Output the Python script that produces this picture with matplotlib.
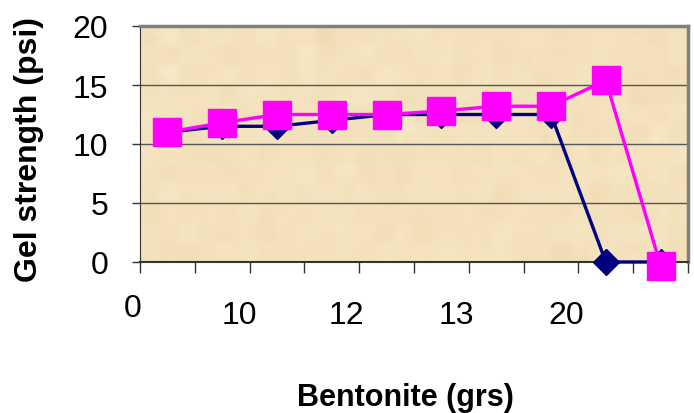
import matplotlib.pyplot as plt
import numpy as np

plt.rcParams['font.family'] = ['Liberation Sans', 'DejaVu Sans']

# gel strength readings per sample (psi)
gel_10s = [11, 11.5, 11.5, 12, 12.5, 12.5, 12.5, 12.5, 0, 0]
gel_10min = [11, 11.8, 12.5, 12.5, 12.5, 12.8, 13.2, 13.2, 15.4, -0.3]

# bentonite amounts shown under the axis and where they sit (category units)
x_labels = ['0', '10', '12', '13', '20']
x_label_pos = [-0.64, 1.31, 3.27, 5.27, 7.27]

x = np.arange(len(gel_10s))

fig = plt.figure(figsize=(6.94, 4.14), dpi=100)
ax = fig.add_axes([140 / 694, 1 - 263 / 414, 548 / 694, 236 / 414])

# parchment-like fill of the plot area
rng = np.random.default_rng(3)
tex = rng.normal(0, 1, (12, 28))
tex = np.kron(tex, np.ones((4, 4)))
tex += 0.6 * np.kron(rng.normal(0, 1, (24, 56)), np.ones((2, 2)))
base = np.array([0.975, 0.915, 0.785])
dark = np.array([0.91, 0.82, 0.64])
t = (tex - tex.min()) / (tex.max() - tex.min())
img = base[None, None, :] * (1 - 0.6 * t[..., None]) + dark[None, None, :] * 0.6 * t[..., None]
ax.imshow(img, extent=[-0.5, 9.5, 0, 20], aspect='auto', zorder=0, interpolation='bicubic')

for yv in [5, 10, 15]:
    ax.axhline(yv, color='#555555', lw=1.0, zorder=1)

ax.plot(x, gel_10s, color='#000080', lw=2.4, marker='D', ms=13,
        zorder=3, clip_on=False)
ax.plot(x, gel_10min, color='#FF00FF', lw=2.4, marker='s', ms=20,
        zorder=4, clip_on=False)

ax.set_xlim(-0.5, 9.5)
ax.set_ylim(0, 20)
ax.set_yticks([0, 5, 10, 15, 20])
ax.tick_params(axis='y', labelsize=23, length=6, width=1, color='#333333', pad=17)
ax.set_xticks(np.arange(-0.5, 10, 1))
ax.set_xticklabels([])
ax.tick_params(axis='x', length=8, width=1, color='#333333')

for s in ['top', 'right']:
    ax.spines[s].set_color('#808080')
    ax.spines[s].set_linewidth(2.5)
ax.spines['left'].set_color('#333333')
ax.spines['bottom'].set_color('#333333')
ax.spines['bottom'].set_linewidth(1.5)

for i, (lab, pos) in enumerate(zip(x_labels, x_label_pos)):
    yy = -0.195 if i == 0 else -0.225
    ax.text(pos, yy, lab, transform=ax.get_xaxis_transform(),
            ha='center', va='center', fontsize=23)

fig.text(405 / 694, 1 - 398 / 414, 'Bentonite (grs)', ha='center', va='center',
         fontsize=22, fontweight='bold')
fig.text(29 / 694, 1 - 150 / 414, 'Gel strength (psi)', ha='center', va='center',
         rotation=90, fontsize=23, fontweight='bold')

fig.savefig('out.png', dpi=100)
